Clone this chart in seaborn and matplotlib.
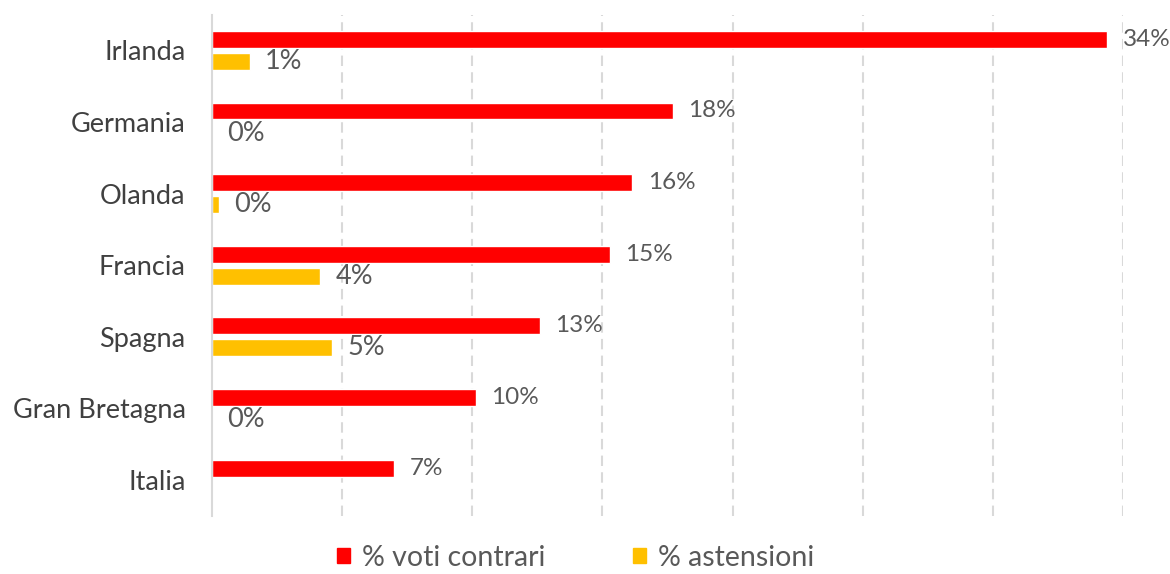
import numpy as np
import pandas as pd
import matplotlib
matplotlib.use("Agg")
import matplotlib.pyplot as plt
import seaborn as sns

paesi = ["Irlanda", "Germania", "Olanda", "Francia", "Spagna", "Gran Bretagna", "Italia"]
voti_contrari = [34.4, 17.7, 16.15, 15.3, 12.6, 10.15, 7.0]
astensioni = [1.46, 0.0, 0.27, 4.15, 4.6, 0.0, np.nan]
serie = ["% voti contrari", "% astensioni"]
colori = ["#FF0000", "#FFC000"]

df = pd.DataFrame({
    "paese": paesi * 2,
    "valore": voti_contrari + astensioni,
    "serie": [serie[0]] * len(paesi) + [serie[1]] * len(paesi),
})

sns.set_theme(style="white")
plt.rcParams["font.family"] = ["Lato", "DejaVu Sans"]

fig = plt.figure(figsize=(11.7, 5.74), dpi=100)
ax = fig.add_axes([0.1812, 0.1014, 0.9598 - 0.1812, 0.9744 - 0.1014])

sns.barplot(data=df, y="paese", x="valore", hue="serie", order=paesi, hue_order=serie,
            palette=colori, orient="h", width=0.62, gap=0.24, ax=ax, legend=False,
            saturation=1, errorbar=None)

ax.set_xlim(0, 35)
ax.set_ylim(len(paesi) - 0.5, -0.5)
ax.set_xticks(np.arange(0, 36, 5))
ax.set_xticklabels([])
ax.tick_params(axis="x", length=0)
ax.tick_params(axis="y", length=0, labelsize=19.5, labelcolor="#404040", pad=19)
ax.set_xlabel("")
ax.set_ylabel("")
for s in ["top", "right", "bottom"]:
    ax.spines[s].set_visible(False)
ax.spines["left"].set_color("#D9D9D9")
ax.spines["left"].set_linewidth(1.5)
for xv in np.arange(5, 36, 5):
    ax.axvline(xv, color="#D9D9D9", lw=1.5, ls=(0, (5, 3)), zorder=0)

sizes = [17.5, 19.5]
for cont, vals, fs in zip(ax.containers, [voti_contrari, astensioni], sizes):
    for patch, v in zip(cont.patches, vals):
        if np.isnan(v):
            continue
        y = patch.get_y() + patch.get_height() / 2
        ax.annotate(f"{v:.0f}%", xy=(v, y), xytext=(11, 0), textcoords="offset points",
                    va="center", ha="left", fontsize=fs, color="#595959",
                    annotation_clip=False)

handles = [plt.Rectangle((0, 0), 1, 1, color=c) for c in colori]
fig.legend(handles, serie, loc="center", bbox_to_anchor=(0.492, 0.028), ncol=2,
           frameon=False, fontsize=20.5, labelcolor="#595959", handlelength=0.45,
           handleheight=0.45, handletextpad=0.4, columnspacing=3.1,
           borderpad=0.1)

fig.savefig("out.png", dpi=100)
